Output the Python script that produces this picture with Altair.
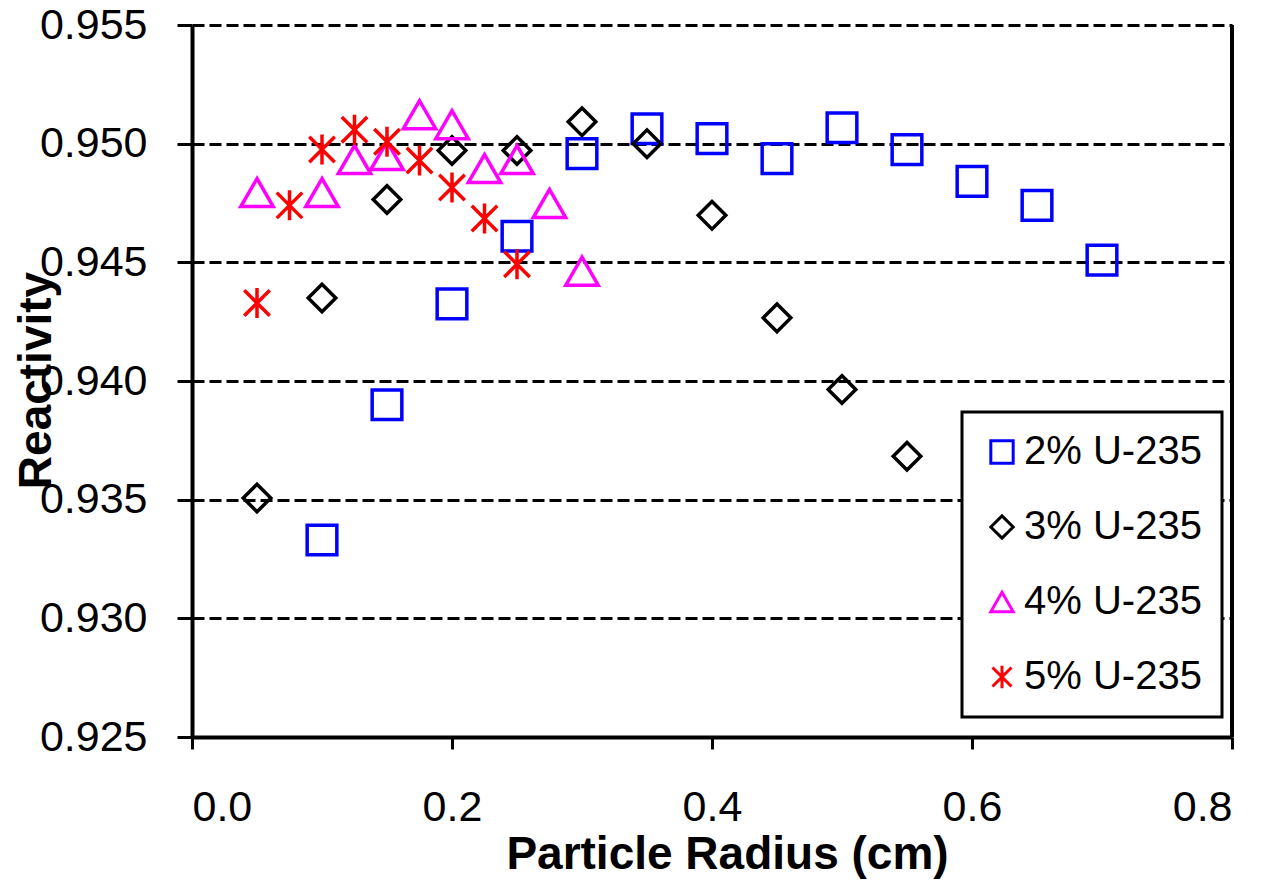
import altair as alt
import pandas as pd

# ---- data ----
r2 = [0.10, 0.15, 0.20, 0.25, 0.30, 0.35, 0.40, 0.45, 0.50, 0.55, 0.60, 0.65, 0.70]
k2 = [0.9333, 0.9390, 0.94325, 0.9461, 0.94958, 0.95063, 0.95021, 0.94937, 0.95067, 0.94975, 0.94841, 0.9474, 0.94509]

r3 = [0.05, 0.10, 0.15, 0.20, 0.25, 0.30, 0.35, 0.40, 0.45, 0.50, 0.55]
k3 = [0.93507, 0.9435, 0.94765, 0.94971, 0.94971, 0.95092, 0.9500, 0.94698, 0.94266, 0.93964, 0.93683]

r4 = [0.05, 0.10, 0.125, 0.15, 0.175, 0.20, 0.225, 0.25, 0.275, 0.30]
k4 = [0.94794, 0.94794, 0.94933, 0.9495, 0.95122, 0.9508, 0.94895, 0.94933, 0.94748, 0.94463]

r5 = [0.05, 0.075, 0.10, 0.125, 0.15, 0.175, 0.20, 0.225, 0.25]
k5 = [0.94329, 0.9474, 0.94975, 0.95059, 0.95008, 0.94929, 0.94815, 0.94685, 0.94492]

series = ["2% U-235", "3% U-235", "4% U-235", "5% U-235"]
colors = ["#0000FF", "#000000", "#FF00FF", "#FF0000"]
star = "M-0.85,-0.85L0.85,0.85M-0.85,0.85L0.85,-0.85M0,-1L0,1"
shapes = ["square", "diamond", "triangle-up", star]
marker_sizes = [880, 760, 1050, 900]

x_ticks = [0.0, 0.2, 0.4, 0.6, 0.8]
y_ticks = [0.925, 0.930, 0.935, 0.940, 0.945, 0.950, 0.955]

rows = []
for name, rs, ks in zip(series, [r2, r3, r4, r5], [k2, k3, k4, k5]):
    for r, k in zip(rs, ks):
        rows.append({"radius": r, "k": k, "series": name})
df = pd.DataFrame(rows)

FONT = "Liberation Sans"

x_enc = alt.X("radius:Q",
              scale=alt.Scale(domain=[0, 0.8], nice=False, zero=False),
              axis=alt.Axis(values=x_ticks, format=".1f", title="Particle Radius (cm)",
                            grid=False, domainColor="black", domainWidth=4,
                            tickColor="black", tickWidth=3, tickSize=12,
                            labelFont=FONT, labelFontSize=43, labelColor="black",
                            labelPadding=37,
                            titleFont=FONT, titleFontSize=46, titleFontWeight="bold",
                            titleColor="black", titleX=535, titleY=117,
                            titleAlign="center", titleBaseline="middle"))
y_enc = alt.Y("k:Q",
              scale=alt.Scale(domain=[0.925, 0.955], nice=False, zero=False),
              axis=alt.Axis(values=y_ticks, format=".3f", title="Reactivity",
                            grid=True, gridColor="black", gridWidth=3, gridDash=[12, 5],
                            domainColor="black", domainWidth=4,
                            tickColor="black", tickWidth=3, tickSize=15,
                            labelFont=FONT, labelFontSize=43, labelColor="black",
                            labelPadding=30,
                            titleFont=FONT, titleFontSize=46, titleFontWeight="bold",
                            titleColor="black", titleX=-156, titleY=355, titleAngle=-90,
                            titleAlign="center", titleBaseline="middle"))
color_enc = alt.Color("series:N",
                      scale=alt.Scale(domain=series, range=colors),
                      legend=alt.Legend(title=None, orient="none", legendX=770, legendY=387,
                                        labelFont=FONT, labelFontSize=40, labelColor="black",
                                        labelLimit=0,
                                        symbolSize=500, symbolStrokeWidth=3,
                                        symbolOffset=0, labelOffset=2,
                                        rowPadding=35, padding=20,
                                        strokeColor="black"))
shape_enc = alt.Shape("series:N", scale=alt.Scale(domain=series, range=shapes))

layers = []
for name, sz in zip(series, marker_sizes):
    layers.append(
        alt.Chart(df).transform_filter(alt.datum.series == name)
        .mark_point(filled=False, strokeWidth=3.5, opacity=1, size=sz)
        .encode(x=x_enc, y=y_enc, color=color_enc, shape=shape_enc)
    )

right_border = alt.Chart(df).mark_rule(color="black", strokeWidth=4).encode(
    x=alt.value(1040), y=alt.value(0), y2=alt.value(712)
)

chart = alt.layer(*layers, right_border).properties(
    width=1040, height=712,
    autosize=alt.AutoSizeParams(type="none"),
    padding={"left": 184, "top": 17, "right": 29, "bottom": 142},
).configure_view(stroke=None).configure_legend(strokeWidth=3, fillColor="white")

chart.save("out.html", embed_options={"renderer": "svg", "actions": False})
